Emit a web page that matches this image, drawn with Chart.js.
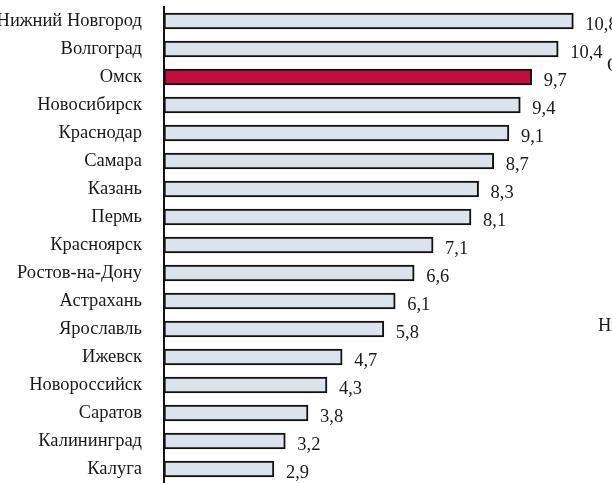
<!DOCTYPE html>
<html>
<head>
<meta charset="utf-8">
<script src="https://cdn.jsdelivr.net/npm/chart.js@4.4.1/dist/chart.umd.min.js"></script>
<style>
  html, body { margin: 0; padding: 0; background: #fff; }
  #wrap { width: 612px; height: 483px; position: relative; }
</style>
</head>
<body>
<div id="wrap"><canvas id="chart"></canvas></div>
<script>
// Cities and their values
const cities = [
  'Нижний Новгород', 'Волгоград', 'Омск', 'Новосибирск', 'Краснодар', 'Самара',
  'Казань', 'Пермь', 'Красноярск', 'Ростов-на-Дону', 'Астрахань', 'Ярославль',
  'Ижевск', 'Новороссийск', 'Саратов', 'Калининград', 'Калуга'
];
const values = [10.8, 10.4, 9.7, 9.4, 9.1, 8.7, 8.3, 8.1, 7.1, 6.6, 6.1, 5.8, 4.7, 4.3, 3.8, 3.2, 2.9];
const highlighted = 'Омск';
// Side notes partly running off the right edge
const sideNotes = ['Омск', 'Нижний Новгород'];

const FONT = '"Liberation Serif", "Times New Roman", serif';

const barColors = cities.map(c => c === highlighted ? '#c20e3e' : '#dde3ec');

// Writes each value (decimal comma) just past the end of its bar
const valueLabels = {
  id: 'valueLabels',
  afterDatasetsDraw(chart) {
    const ctx = chart.ctx;
    const meta = chart.getDatasetMeta(0);
    ctx.save();
    ctx.font = '18.5px ' + FONT;
    ctx.fillStyle = '#1a1a1a';
    ctx.textAlign = 'left';
    ctx.textBaseline = 'middle';
    meta.data.forEach((bar, i) => {
      ctx.fillText(values[i].toFixed(1).replace('.', ','), bar.x + 12, bar.y + 4);
    });
    // side notes at the right border
    const yScale = chart.scales.y;
    ctx.fillText(sideNotes[0], 607, yScale.getPixelForValue(1.6));
    ctx.fillText(sideNotes[1], 598, yScale.getPixelForValue(10.9));
    ctx.restore();
  }
};

new Chart(document.getElementById('chart'), {
  type: 'bar',
  data: {
    labels: cities,
    datasets: [{
      data: values,
      backgroundColor: barColors,
      borderColor: '#111',
      borderWidth: 2,
      borderSkipped: false,
      barThickness: 16
    }]
  },
  options: {
    indexAxis: 'y',
    responsive: true,
    maintainAspectRatio: false,
    animation: false,
    layout: { padding: { top: 7, bottom: 0, left: 0, right: 0 } },
    plugins: { legend: { display: false }, tooltip: { enabled: false } },
    scales: {
      x: {
        display: false,
        min: 0,
        max: 11.82
      },
      y: {
        afterFit(scale) {
          scale.width = 164;
          scale.paddingTop = 0;
          scale.paddingBottom = 0;
        },
        grid: { display: false, drawTicks: false },
        border: { display: true, color: '#111', width: 2 },
        ticks: {
          padding: 22,
          color: '#1a1a1a',
          font: { family: FONT, size: 18.5 }
        }
      }
    }
  },
  plugins: [valueLabels]
});
</script>
</body>
</html>
